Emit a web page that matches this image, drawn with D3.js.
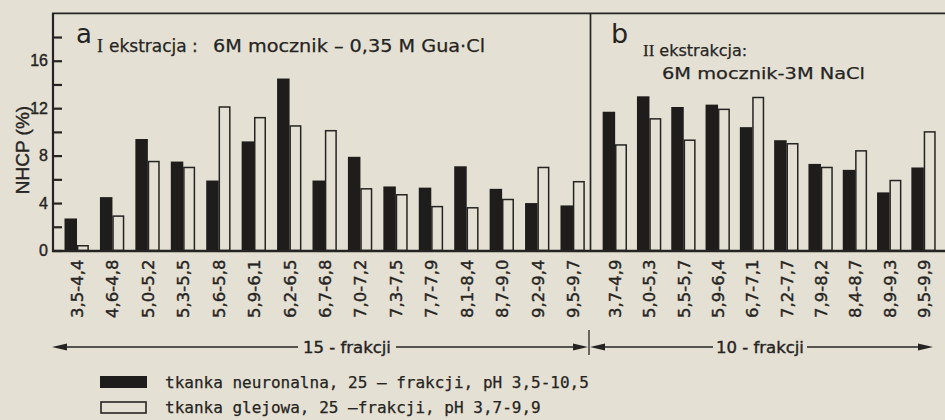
<!DOCTYPE html>
<html>
<head>
<meta charset="utf-8">
<script src="https://cdn.jsdelivr.net/npm/d3@7"></script>
<style>
  html, body { margin: 0; padding: 0; background: #e4e0d4; }
  svg { display: block; }
  text { fill: #262422; }
  .heavy { stroke: #262422; stroke-width: 0.4px; }
  .semi { stroke: #262422; stroke-width: 0.25px; }
</style>
</head>
<body>
<svg id="chart" width="945" height="420"></svg>
<script>
// pH ranges of the fractions (first extraction: 15, second: 10)
const fractionsA = ["3,5-4,4","4,6-4,8","5,0-5,2","5,3-5,5","5,6-5,8","5,9-6,1","6,2-6,5","6,7-6,8",
                    "7,0-7,2","7,3-7,5","7,7-7,9","8,1-8,4","8,7-9,0","9,2-9,4","9,5-9,7"];
const fractionsB = ["3,7-4,9","5,0-5,3","5,5-5,7","5,9-6,4","6,7-7,1","7,2-7,7","7,9-8,2","8,4-8,7",
                    "8,9-9,3","9,5-9,9"];

// NHCP (%) per fraction
const neuronalA = [2.7, 4.5, 9.4, 7.5, 5.9, 9.2, 14.5, 5.9, 7.9, 5.4, 5.3, 7.1, 5.2, 4.0, 3.8];
const glialA    = [0.4, 2.9, 7.5, 7.0, 12.1, 11.2, 10.5, 10.1, 5.2, 4.7, 3.7, 3.6, 4.3, 7.0, 5.8];
const neuronalB = [11.7, 13.0, 12.1, 12.3, 10.4, 9.3, 7.3, 6.8, 4.9, 7.0];
const glialB    = [8.9, 11.1, 9.3, 11.9, 12.9, 9.0, 7.0, 8.4, 5.9, 10.0];

const yTicks = [0, 2, 4, 6, 8, 10, 12, 14, 16, 18];
const yLabelled = [0, 4, 8, 12, 16];

const ink = "#262422";
const paper = "#e4e0d4";
const dark = "#1f1d1c";

const svg = d3.select("#chart");
svg.append("rect").attr("width", 945).attr("height", 420).attr("fill", paper);

const axisX = 53, topY = 13.3, base = 250.5, divX = 590.5, rightX = 945;

const y = d3.scaleLinear().domain([0, 20]).range([base, topY]);
const xA = d3.scaleBand().domain(fractionsA).range([59.3, 590.7]);
const xB = d3.scaleBand().domain(fractionsB).range([598, 941]);

const blackW = 12.5, whiteW = 10.5;

function drawPanel(x, cats, neu, gli) {
  const g = svg.append("g");
  const c = d => x(d) + x.bandwidth() / 2;
  // neuronal tissue: solid bars left of the fraction centre
  g.selectAll("rect.neu").data(cats).join("rect")
    .attr("class", "neu")
    .attr("x", d => c(d) - blackW)
    .attr("width", blackW)
    .attr("y", (d, i) => y(neu[i]))
    .attr("height", (d, i) => base - y(neu[i]))
    .attr("fill", dark);
  // glial tissue: open bars right of the centre
  g.selectAll("rect.gli").data(cats).join("rect")
    .attr("class", "gli")
    .attr("x", d => c(d) + 0.6)
    .attr("width", whiteW)
    .attr("y", (d, i) => y(gli[i]))
    .attr("height", (d, i) => base - y(gli[i]))
    .attr("fill", paper)
    .attr("stroke", ink)
    .attr("stroke-width", 1.5);

  // fraction labels, read bottom-to-top under each pair
  const ax = svg.append("g")
    .attr("transform", `translate(0,${base})`)
    .call(d3.axisBottom(x).tickSize(0).tickPadding(0));
  ax.select(".domain").remove();
  ax.selectAll("text")
    .attr("class", "heavy")
    .attr("transform", "translate(0,9) rotate(-90)")
    .attr("text-anchor", "end")
    .attr("x", 0).attr("y", 0).attr("dy", "0.36em")
    .style("font-family", "DejaVu Sans")
    .style("font-size", "16.5px")
    .style("fill", ink);
}

drawPanel(xA, fractionsA, neuronalA, glialA);
drawPanel(xB, fractionsB, neuronalB, glialB);

// y axis with inward ticks
const yAx = svg.append("g")
  .attr("transform", `translate(${axisX},0)`)
  .call(d3.axisLeft(y).tickValues(yTicks).tickSize(-9).tickPadding(5)
        .tickFormat(d => yLabelled.includes(d) ? d : ""));
yAx.select(".domain").remove();
yAx.selectAll("line").attr("stroke", ink).attr("stroke-width", 2.2);
yAx.selectAll("text")
  .attr("class", "heavy")
  .style("font-family", "Liberation Sans")
  .style("font-size", "16px")
  .style("fill", ink);

// frame: left axis, top rule, baseline, panel divider
const frame = svg.append("g").attr("stroke", ink).attr("fill", "none");
frame.append("line").attr("x1", axisX).attr("x2", axisX).attr("y1", topY).attr("y2", base + 1).attr("stroke-width", 2.2);
frame.append("line").attr("x1", axisX - 1).attr("x2", rightX).attr("y1", topY).attr("y2", topY).attr("stroke-width", 1.7);
frame.append("line").attr("x1", axisX - 1).attr("x2", rightX).attr("y1", base + 0.5).attr("y2", base + 0.5).attr("stroke-width", 2.4);
frame.append("line").attr("x1", divX).attr("x2", divX).attr("y1", topY).attr("y2", base).attr("stroke-width", 1.7);

// y-axis title
svg.append("text")
  .attr("class", "heavy")
  .attr("transform", "translate(29,150) rotate(-90)")
  .attr("text-anchor", "middle")
  .style("font-family", "Liberation Sans")
  .style("font-size", "19px")
  .text("NHCP (%)");

// panel headings
svg.append("text").attr("x", 76).attr("y", 43)
  .style("font-family", "DejaVu Sans").style("font-size", "26px").text("a");
const tA = svg.append("text").attr("x", 97).attr("y", 52)
  .attr("class", "semi")
  .style("font-family", "DejaVu Sans").style("font-size", "17px");
tA.append("tspan").style("font-family", "Liberation Serif").style("font-size", "18px").text("I");
tA.append("tspan").attr("dx", 6).text("ekstracja :");
svg.append("text").attr("x", 213).attr("y", 52)
  .attr("class", "semi")
  .attr("textLength", 272).attr("lengthAdjust", "spacingAndGlyphs")
  .style("font-family", "DejaVu Sans").style("font-size", "17px")
  .text("6M mocznik – 0,35 M Gua·Cl");

svg.append("text").attr("x", 611).attr("y", 43)
  .style("font-family", "DejaVu Sans").style("font-size", "27px").text("b");
const tB = svg.append("text").attr("x", 643).attr("y", 56)
  .attr("class", "semi")
  .style("font-family", "DejaVu Sans").style("font-size", "16px");
tB.append("tspan").style("font-family", "Liberation Serif").style("font-size", "17px").text("II");
tB.append("tspan").attr("dx", 5).text("ekstrakcja:");
svg.append("text").attr("x", 662).attr("y", 79)
  .attr("class", "semi")
  .attr("textLength", 203).attr("lengthAdjust", "spacingAndGlyphs")
  .style("font-family", "DejaVu Sans").style("font-size", "16px")
  .text("6M mocznik-3M NaCl");

// fraction count arrows
const arrowY = 347;
function arrowHead(tip, dir) {
  svg.append("path")
    .attr("d", `M${tip},${arrowY} L${tip - dir * 15},${arrowY - 3.5} L${tip - dir * 15},${arrowY + 3.5} Z`)
    .attr("fill", ink);
}
function spanArrow(x0, x1, label, labelX, gap) {
  const g = svg.append("g").attr("stroke", ink).attr("stroke-width", 1.6);
  g.append("line").attr("x1", x0 + 4).attr("x2", labelX - gap).attr("y1", arrowY).attr("y2", arrowY);
  g.append("line").attr("x1", labelX + gap).attr("x2", x1 - 4).attr("y1", arrowY).attr("y2", arrowY);
  arrowHead(x0, -1);
  arrowHead(x1, 1);
  svg.append("text").attr("x", labelX).attr("y", arrowY).attr("dy", "0.36em")
    .attr("class", "heavy")
    .attr("text-anchor", "middle")
    .style("font-family", "DejaVu Sans").style("font-size", "16.5px")
    .text(label);
}
spanArrow(52, 588, "15 - frakcji", 347, 49);
spanArrow(590, 933, "10 - frakcji", 760, 47);
svg.append("line").attr("x1", 589).attr("x2", 589).attr("y1", 330).attr("y2", 355)
  .attr("stroke", ink).attr("stroke-width", 1.3);

// legend
const legend = svg.append("g");
legend.append("rect").attr("x", 100).attr("y", 376).attr("width", 47).attr("height", 12).attr("fill", dark);
legend.append("rect").attr("x", 101).attr("y", 402).attr("width", 45).attr("height", 11)
  .attr("fill", paper).attr("stroke", ink).attr("stroke-width", 1.6);
legend.append("text").attr("x", 165).attr("y", 388)
  .attr("class", "semi")
  .style("font-family", "DejaVu Sans Mono").style("font-size", "16px")
  .text("tkanka neuronalna, 25 — frakcji, pH 3,5-10,5");
legend.append("text").attr("x", 165).attr("y", 413)
  .attr("class", "semi")
  .style("font-family", "DejaVu Sans Mono").style("font-size", "16px")
  .text("tkanka glejowa, 25 —frakcji, pH 3,7-9,9");
</script>
</body>
</html>
